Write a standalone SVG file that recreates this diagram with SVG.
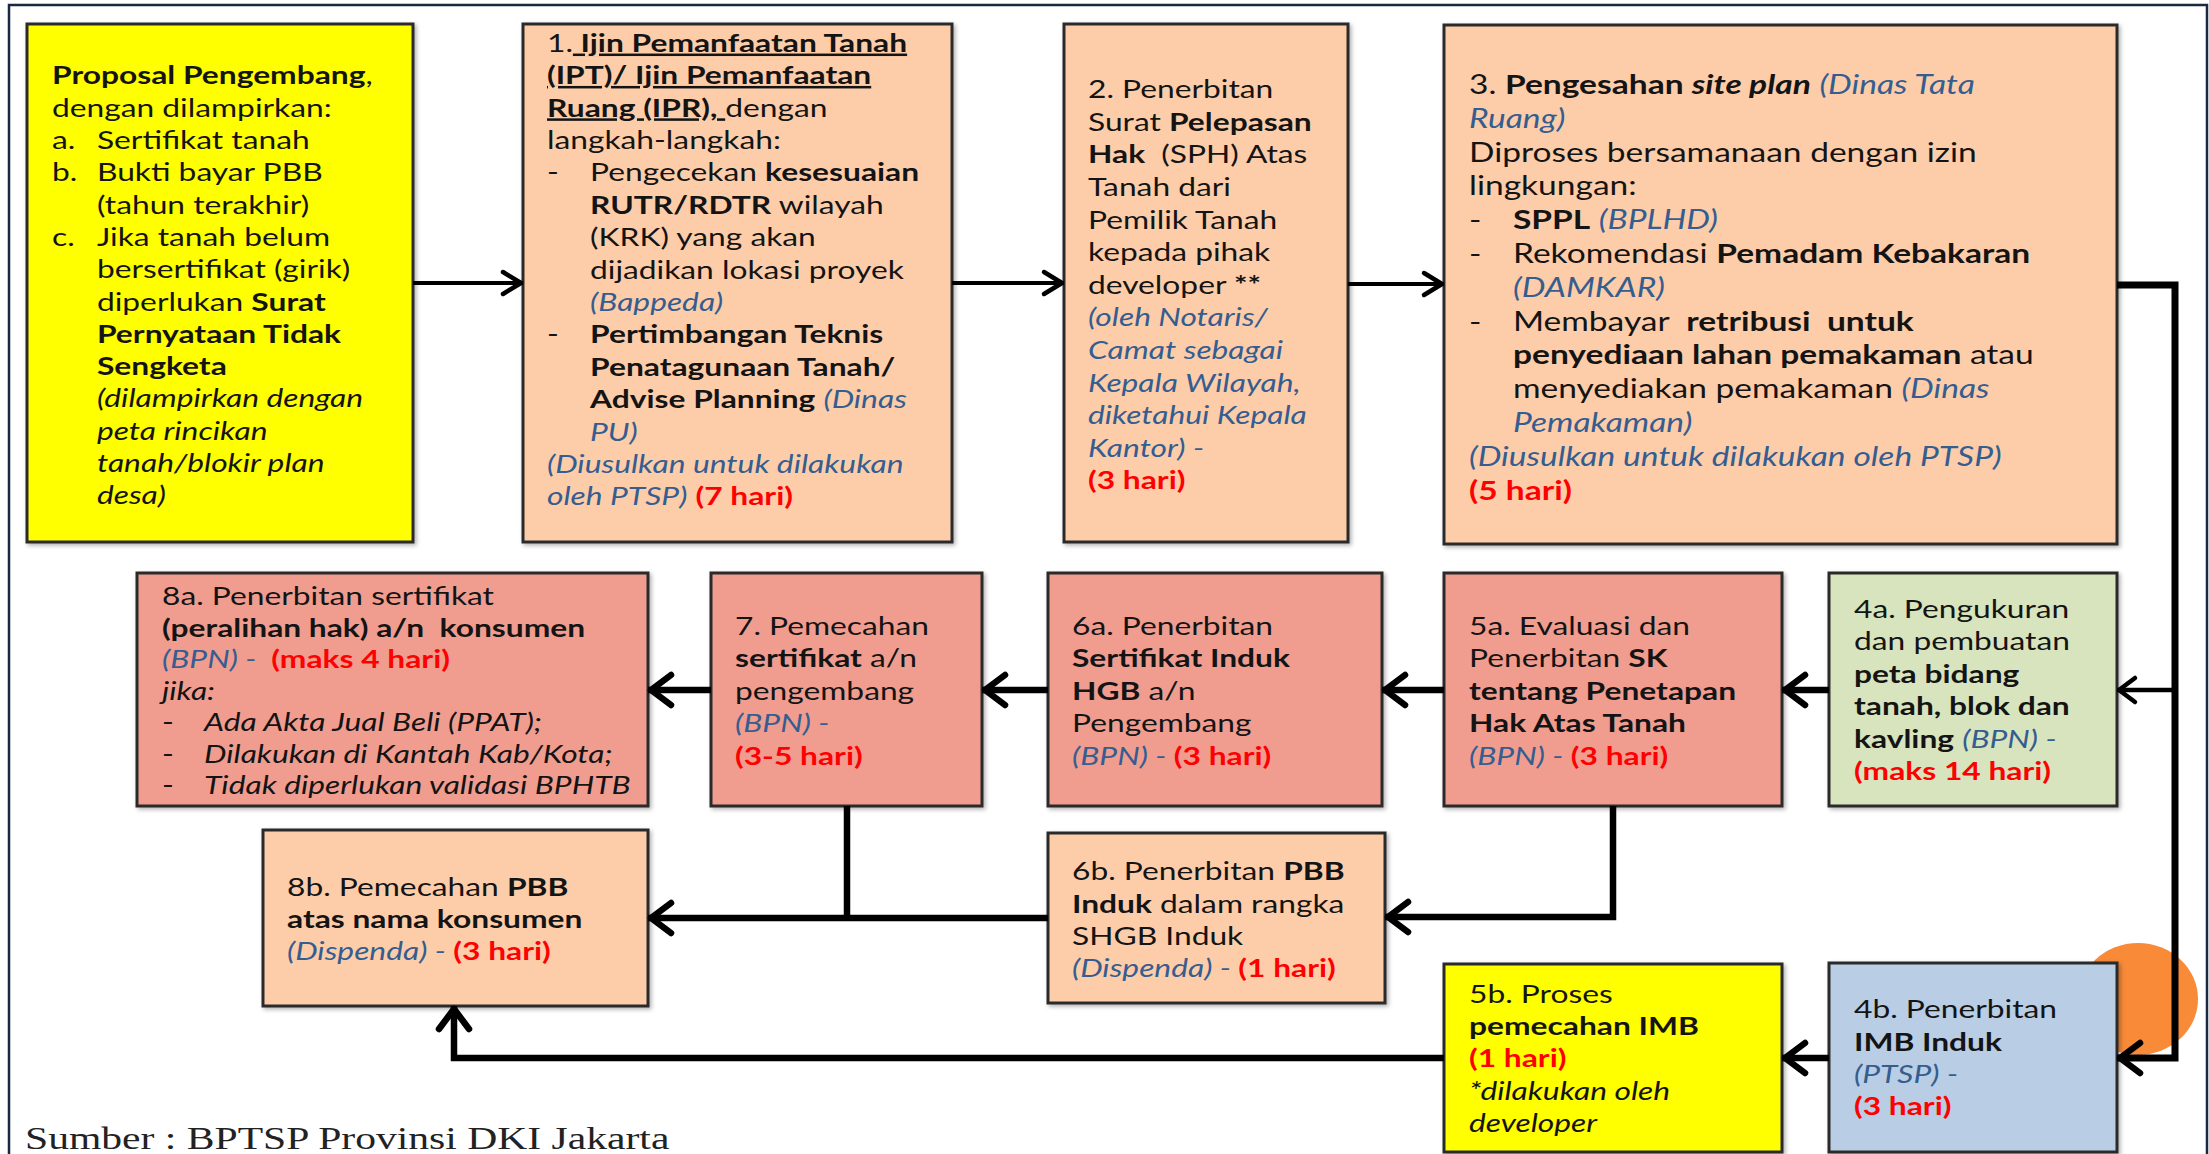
<svg xmlns="http://www.w3.org/2000/svg" width="2209" height="1154" viewBox="0 0 2209 1154">
<style>
.t{font-family:Lato,'Open Sans','DejaVu Sans',sans-serif;font-size:25px;fill:#141414}
.big{font-size:26.3px}
.b{font-weight:700}
.i{font-style:italic}
.bl{fill:#355d8f;font-style:italic;font-weight:400}
.r{fill:#ff0000;font-weight:700;font-style:normal}
.u{text-decoration:underline}
.box{stroke:#2b2b2b;stroke-width:3}
.peach{fill:#fdcdaa}
.salmon{fill:#f09d90}
.yel{fill:#ffff00}
.grn{fill:#d8e4bd}
.blu{fill:#b9cde4}
.ln{fill:none;stroke:#000;stroke-linejoin:miter}
.src{font-family:'Liberation Serif','DejaVu Serif',serif;font-size:32px;fill:#222}
</style>
<defs>
<filter id="sh" x="-5%" y="-5%" width="110%" height="110%">
<feDropShadow dx="2" dy="2" stdDeviation="2" flood-color="#000" flood-opacity="0.3"/>
</filter>
<marker id="a1" markerUnits="userSpaceOnUse" markerWidth="40" markerHeight="40" viewBox="-30 -20 40 40" refX="0" refY="0" orient="auto" style="overflow:visible">
<path d="M-20,-11 L-2,0 L-20,11" fill="none" stroke="#000" stroke-width="4.5" stroke-linecap="round" stroke-linejoin="round"/>
</marker>
<marker id="a2" markerUnits="userSpaceOnUse" markerWidth="40" markerHeight="40" viewBox="-30 -20 40 40" refX="0" refY="0" orient="auto" style="overflow:visible">
<path d="M-23,-15 L-3,0 L-23,15" fill="none" stroke="#000" stroke-width="6.5" stroke-linecap="round" stroke-linejoin="round"/>
</marker>
<marker id="a3" markerUnits="userSpaceOnUse" markerWidth="40" markerHeight="40" viewBox="-30 -20 40 40" refX="0" refY="0" orient="auto" style="overflow:visible">
<path d="M-18,-12 L-2,0 L-18,12" fill="none" stroke="#000" stroke-width="4.5" stroke-linecap="round" stroke-linejoin="round"/>
</marker>
</defs>
<rect x="0" y="0" width="2209" height="1154" fill="#fff"/>
<rect id="frame" x="9" y="5" width="2198" height="1170" fill="none" stroke="#1c2743" stroke-width="2.5"/>
<ellipse id="orange-mark" cx="2138" cy="999" rx="60" ry="56" fill="#f88a38"/>

<g id="n-proposal">
<rect class="box yel" x="27" y="24" width="386" height="518" filter="url(#sh)"/>
<g transform="translate(52,2.5) scale(1.27,1)" class="t">
<text x="0" y="82"><tspan class="b">Proposal Pengembang</tspan>,</text>
<text x="0" y="114.3">dengan dilampirkan:</text>
<text x="0" y="146.6">a.</text><text x="35.4" y="146.6">Sertifikat tanah</text>
<text x="0" y="178.9">b.</text><text x="35.4" y="178.9">Bukti bayar PBB</text>
<text x="35.4" y="211.2">(tahun terakhir)</text>
<text x="0" y="243.5">c.</text><text x="35.4" y="243.5">Jika tanah belum</text>
<text x="35.4" y="275.8">bersertifikat (girik)</text>
<text x="35.4" y="308.1">diperlukan <tspan class="b">Surat</tspan></text>
<text x="35.4" y="340.4" class="b">Pernyataan Tidak</text>
<text x="35.4" y="372.7" class="b">Sengketa</text>
<text x="35.4" y="405" class="i">(dilampirkan dengan</text>
<text x="35.4" y="437.3" class="i">peta rincikan</text>
<text x="35.4" y="469.6" class="i">tanah/blokir plan</text>
<text x="35.4" y="501.9" class="i">desa)</text>
</g>
</g>

<g id="n-1-ipt">
<rect class="box peach" x="523" y="24" width="429" height="518" filter="url(#sh)"/>
<g transform="translate(547,2.5) scale(1.27,1)" class="t">
<text x="0" y="49.3">1.<tspan class="b u"> Ijin Pemanfaatan Tanah</tspan></text>
<text x="0" y="81.7" class="b u">(IPT)/ Ijin Pemanfaatan</text>
<text x="0" y="114.1"><tspan class="b u">Ruang (IPR), </tspan>dengan</text>
<text x="0" y="146.5">langkah-langkah:</text>
<text x="0" y="178.9">-</text><text x="33.9" y="178.9">Pengecekan <tspan class="b">kesesuaian</tspan></text>
<text x="33.9" y="211.3"><tspan class="b">RUTR/RDTR</tspan> wilayah</text>
<text x="33.9" y="243.7">(KRK) yang akan</text>
<text x="33.9" y="276.1">dijadikan lokasi proyek</text>
<text x="33.9" y="308.5" class="bl">(Bappeda)</text>
<text x="0" y="340.9">-</text><text x="33.9" y="340.9" class="b">Pertimbangan Teknis</text>
<text x="33.9" y="373.3" class="b">Penatagunaan Tanah/</text>
<text x="33.9" y="405.7"><tspan class="b">Advise Planning</tspan> <tspan class="bl">(Dinas</tspan></text>
<text x="33.9" y="438.1" class="bl">PU)</text>
<text x="0" y="470.5" class="bl">(Diusulkan untuk dilakukan</text>
<text x="0" y="502.9"><tspan class="bl">oleh PTSP)</tspan> <tspan class="r">(7 hari)</tspan></text>
</g>
</g>

<g id="n-2-sph">
<rect class="box peach" x="1064" y="24" width="284" height="518" filter="url(#sh)"/>
<g transform="translate(1088,2.5) scale(1.27,1)" class="t">
<text x="0" y="95.8">2. Penerbitan</text>
<text x="0" y="128.4">Surat <tspan class="b">Pelepasan</tspan></text>
<text x="0" y="161" xml:space="preserve"><tspan class="b">Hak</tspan>  (SPH) Atas</text>
<text x="0" y="193.6">Tanah dari</text>
<text x="0" y="226.2">Pemilik Tanah</text>
<text x="0" y="258.8">kepada pihak</text>
<text x="0" y="291.4">developer <tspan class="b">**</tspan></text>
<text x="0" y="324" class="bl">(oleh Notaris/</text>
<text x="0" y="356.6" class="bl">Camat sebagai</text>
<text x="0" y="389.2" class="bl">Kepala Wilayah,</text>
<text x="0" y="421.8" class="bl">diketahui Kepala</text>
<text x="0" y="454.4" class="bl">Kantor) -</text>
<text x="0" y="487" class="r">(3 hari)</text>
</g>
</g>

<g id="n-3-siteplan">
<rect class="box peach" x="1444" y="25" width="673" height="519" filter="url(#sh)"/>
<g transform="translate(1469,2.5) scale(1.275,1)" class="t big">
<text x="0" y="91.6">3. <tspan class="b">Pengesahan </tspan><tspan class="b i">site plan</tspan> <tspan class="bl">(Dinas Tata</tspan></text>
<text x="0" y="125.4" class="bl">Ruang)</text>
<text x="0" y="159.2">Diproses bersamanaan dengan izin</text>
<text x="0" y="193">lingkungan:</text>
<text x="0" y="226.8">-</text><text x="34.5" y="226.8"><tspan class="b">SPPL</tspan> <tspan class="bl">(BPLHD)</tspan></text>
<text x="0" y="260.6">-</text><text x="34.5" y="260.6">Rekomendasi <tspan class="b">Pemadam Kebakaran</tspan></text>
<text x="34.5" y="294.4" class="bl">(DAMKAR)</text>
<text x="0" y="328.2">-</text><text x="34.5" y="328.2" xml:space="preserve">Membayar  <tspan class="b">retribusi  untuk</tspan></text>
<text x="34.5" y="362"><tspan class="b">penyediaan lahan pemakaman</tspan> atau</text>
<text x="34.5" y="395.8">menyediakan pemakaman <tspan class="bl">(Dinas</tspan></text>
<text x="34.5" y="429.6" class="bl">Pemakaman)</text>
<text x="0" y="463.4" class="bl">(Diusulkan untuk dilakukan oleh PTSP)</text>
<text x="0" y="497.2" class="r">(5 hari)</text>
</g>
</g>

<g id="n-8a">
<rect class="box salmon" x="137" y="573" width="511" height="233" filter="url(#sh)"/>
<g transform="translate(162,2.5) scale(1.27,1)" class="t">
<text x="0" y="603">8a. Penerbitan sertifikat</text>
<text x="0" y="634.5" class="b" xml:space="preserve">(peralihan hak) a/n  konsumen</text>
<text x="0" y="665.9" xml:space="preserve"><tspan class="bl">(BPN) -  </tspan><tspan class="r">(maks 4 hari)</tspan></text>
<text x="0" y="697.4" class="i">jika:</text>
<text x="0" y="728.8">-</text><text x="33.1" y="728.8" class="i">Ada Akta Jual Beli (PPAT);</text>
<text x="0" y="760.3">-</text><text x="33.1" y="760.3" class="i">Dilakukan di Kantah Kab/Kota;</text>
<text x="0" y="791.7">-</text><text x="33.1" y="791.7" class="i">Tidak diperlukan validasi BPHTB</text>
</g>
</g>

<g id="n-7">
<rect class="box salmon" x="711" y="573" width="271" height="233" filter="url(#sh)"/>
<g transform="translate(735,2.5) scale(1.27,1)" class="t">
<text x="0" y="632.5">7. Pemecahan</text>
<text x="0" y="664.9"><tspan class="b">sertifikat</tspan> a/n</text>
<text x="0" y="697.3">pengembang</text>
<text x="0" y="729.7" class="bl">(BPN) -</text>
<text x="0" y="762.1" class="r">(3-5 hari)</text>
</g>
</g>

<g id="n-6a">
<rect class="box salmon" x="1048" y="573" width="334" height="233" filter="url(#sh)"/>
<g transform="translate(1072,2.5) scale(1.27,1)" class="t">
<text x="0" y="632.5">6a. Penerbitan</text>
<text x="0" y="664.9" class="b">Sertifikat Induk</text>
<text x="0" y="697.3"><tspan class="b">HGB</tspan> a/n</text>
<text x="0" y="729.7">Pengembang</text>
<text x="0" y="762.1"><tspan class="bl">(BPN) - </tspan><tspan class="r">(3 hari)</tspan></text>
</g>
</g>

<g id="n-5a">
<rect class="box salmon" x="1444" y="573" width="338" height="233" filter="url(#sh)"/>
<g transform="translate(1469,2.5) scale(1.27,1)" class="t">
<text x="0" y="632.5">5a. Evaluasi dan</text>
<text x="0" y="664.9">Penerbitan <tspan class="b">SK</tspan></text>
<text x="0" y="697.3" class="b">tentang Penetapan</text>
<text x="0" y="729.7" class="b">Hak Atas Tanah</text>
<text x="0" y="762.1"><tspan class="bl">(BPN) - </tspan><tspan class="r">(3 hari)</tspan></text>
</g>
</g>

<g id="n-4a">
<rect class="box grn" x="1829" y="573" width="288" height="233" filter="url(#sh)"/>
<g transform="translate(1854,2.5) scale(1.27,1)" class="t">
<text x="0" y="615.6">4a. Pengukuran</text>
<text x="0" y="648">dan pembuatan</text>
<text x="0" y="680.4" class="b">peta bidang</text>
<text x="0" y="712.8" class="b">tanah, blok dan</text>
<text x="0" y="745.2"><tspan class="b">kavling</tspan> <tspan class="bl">(BPN) -</tspan></text>
<text x="0" y="777.6" class="r">(maks 14 hari)</text>
</g>
</g>

<g id="n-8b">
<rect class="box peach" x="263" y="830" width="385" height="176" filter="url(#sh)"/>
<g transform="translate(287,2.5) scale(1.27,1)" class="t">
<text x="0" y="893.2">8b. Pemecahan <tspan class="b">PBB</tspan></text>
<text x="0" y="925.6" class="b">atas nama konsumen</text>
<text x="0" y="958"><tspan class="bl">(Dispenda) - </tspan><tspan class="r">(3 hari)</tspan></text>
</g>
</g>

<g id="n-6b">
<rect class="box peach" x="1048" y="833" width="337" height="170" filter="url(#sh)"/>
<g transform="translate(1072,2.5) scale(1.27,1)" class="t">
<text x="0" y="877.7">6b. Penerbitan <tspan class="b">PBB</tspan></text>
<text x="0" y="910.1"><tspan class="b">Induk</tspan> dalam rangka</text>
<text x="0" y="942.5">SHGB Induk</text>
<text x="0" y="974.9"><tspan class="bl">(Dispenda) - </tspan><tspan class="r">(1 hari)</tspan></text>
</g>
</g>

<g id="n-5b">
<rect class="box yel" x="1444" y="964" width="338" height="188" filter="url(#sh)"/>
<g transform="translate(1469,2.5) scale(1.27,1)" class="t">
<text x="0" y="1000.2">5b. Proses</text>
<text x="0" y="1032.6" class="b">pemecahan IMB</text>
<text x="0" y="1065" class="r">(1 hari)</text>
<text x="0" y="1097.4" class="i">*dilakukan oleh</text>
<text x="0" y="1129.8" class="i">developer</text>
</g>
</g>

<g id="n-4b">
<rect class="box blu" x="1829" y="963" width="288" height="189" filter="url(#sh)"/>
<g transform="translate(1854,2.5) scale(1.27,1)" class="t">
<text x="0" y="1015.7">4b. Penerbitan</text>
<text x="0" y="1048.1" class="b">IMB Induk</text>
<text x="0" y="1080.5" class="bl">(PTSP) -</text>
<text x="0" y="1112.9" class="r">(3 hari)</text>
</g>
</g>

<g id="connectors">
<path class="ln" d="M413,283 H523" stroke-width="4" marker-end="url(#a1)"/>
<path class="ln" d="M952,283 H1064" stroke-width="4" marker-end="url(#a1)"/>
<path class="ln" d="M1348,284 H1444" stroke-width="4" marker-end="url(#a1)"/>
<path class="ln" d="M2117,285 H2175 V1058 H2117" stroke-width="7" marker-end="url(#a2)"/>
<path class="ln" d="M2175,690 H2117" stroke-width="4.5" marker-end="url(#a3)"/>
<path class="ln" d="M1829,690 H1782" stroke-width="6.5" marker-end="url(#a2)"/>
<path class="ln" d="M1444,690 H1382" stroke-width="6.5" marker-end="url(#a2)"/>
<path class="ln" d="M1048,690 H982" stroke-width="6.5" marker-end="url(#a2)"/>
<path class="ln" d="M711,690 H648" stroke-width="6.5" marker-end="url(#a2)"/>
<path class="ln" d="M1613,806 V917 H1385" stroke-width="6.5" marker-end="url(#a2)"/>
<path class="ln" d="M1048,918 H648" stroke-width="6.5" marker-end="url(#a2)"/>
<path class="ln" d="M847,806 V918" stroke-width="6.5"/>
<path class="ln" d="M1829,1058 H1782" stroke-width="6.5" marker-end="url(#a2)"/>
<path class="ln" d="M1444,1058 H454 V1006" stroke-width="6.5" marker-end="url(#a2)"/>
</g>

<g transform="translate(25,1.5) scale(1.3,1)">
<text class="src" x="0" y="1148">Sumber : BPTSP Provinsi DKI Jakarta</text>
</g>
</svg>
